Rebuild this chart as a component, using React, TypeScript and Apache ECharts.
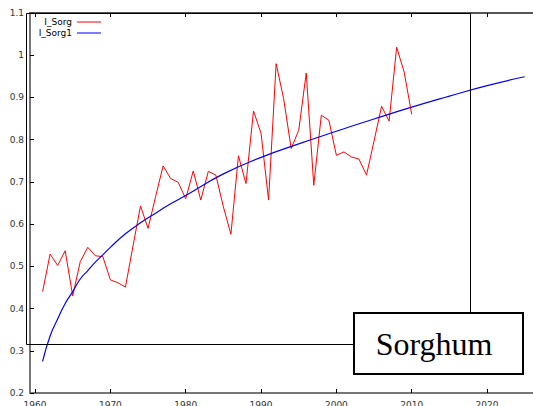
import React, { useEffect, useRef } from "react";
import * as echarts from "echarts";

const sorgYears = [
  1961, 1962, 1963, 1964, 1965, 1966, 1967, 1968, 1969, 1970,
  1971, 1972, 1973, 1974, 1975, 1976, 1977, 1978, 1979, 1980,
  1981, 1982, 1983, 1984, 1985, 1986, 1987, 1988, 1989, 1990,
  1991, 1992, 1993, 1994, 1995, 1996, 1997, 1998, 1999, 2000,
  2001, 2002, 2003, 2004, 2005, 2006, 2007, 2008, 2009, 2010,
];
const sorgValues = [
  0.44, 0.529, 0.502, 0.537, 0.43, 0.511, 0.545, 0.525, 0.523, 0.468,
  0.461, 0.451, 0.548, 0.643, 0.59, 0.665, 0.738, 0.708, 0.699, 0.66,
  0.726, 0.657, 0.725, 0.716, 0.641, 0.576, 0.762, 0.696, 0.868, 0.815,
  0.657, 0.98, 0.897, 0.779, 0.822, 0.958, 0.692, 0.858, 0.846, 0.763,
  0.771, 0.759, 0.754, 0.716, 0.797, 0.879, 0.844, 1.019, 0.96, 0.86,
];

const fitYears = [
  1961, 1962, 1963, 1964, 1965, 1966, 1967, 1968, 1969, 1970, 1972, 1974,
  1976, 1978, 1980, 1985, 1990, 1995, 2000, 2005, 2010, 2015, 2020, 2025,
];
const fitValues = [
  0.275, 0.335, 0.375, 0.412, 0.44, 0.47, 0.49, 0.51, 0.527, 0.545, 0.577, 0.603,
  0.626, 0.648, 0.668, 0.719, 0.758, 0.79, 0.82, 0.849, 0.877, 0.903, 0.928, 0.949,
];

const xTicks = [1960, 1970, 1980, 1990, 2000, 2010, 2020];

export default function App() {
  const ref = useRef<HTMLDivElement>(null);
  useEffect(() => {
    document.body.style.margin = "0";
    const chart = echarts.init(ref.current!, undefined, { renderer: "svg" });
    const labelFont = { fontFamily: "DejaVu Sans", fontSize: 9, color: "#333" };
    const xMin = 1959.33;
    const xMax = 2026.1;
    chart.setOption({
      animation: false,
      backgroundColor: "#fff",
      grid: { left: 30, right: 0, top: 13, bottom: 13, outerBoundsMode: "none", containLabel: false },
      xAxis: [
        {
          type: "value",
          min: xMin,
          max: xMax,
          position: "bottom",
          splitLine: { show: false },
          axisLine: { lineStyle: { color: "#777", width: 2 } },
          axisTick: { inside: true, length: 4, customValues: xTicks, lineStyle: { color: "#000" } },
          axisLabel: { ...labelFont, margin: 7, customValues: xTicks, formatter: (v: number) => String(v) },
        },
        {
          type: "value",
          min: xMin,
          max: xMax,
          position: "top",
          splitLine: { show: false },
          axisLine: { lineStyle: { color: "#555", width: 2 } },
          axisTick: { inside: true, length: 4, customValues: xTicks, lineStyle: { color: "#000" } },
          axisLabel: { show: false },
        },
      ],
      yAxis: {
        type: "value",
        min: 0.2,
        max: 1.1,
        interval: 0.1,
        splitLine: { show: false },
        axisLine: { show: true, lineStyle: { color: "#777", width: 2 } },
        axisTick: { show: true, inside: true, length: 4, lineStyle: { color: "#000" } },
        axisLabel: {
          ...labelFont,
          margin: 6,
          formatter: (v: number) => String(Math.round(v * 10) / 10),
        },
      },
      series: [
        {
          name: "I_Sorg",
          type: "line",
          data: sorgYears.map((y, i) => [y, sorgValues[i]]),
          showSymbol: false,
          lineStyle: { color: "#ff0000", width: 1 },
          z: 3,
        },
        {
          name: "I_Sorg1",
          type: "line",
          smooth: true,
          data: fitYears.map((y, i) => [y, fitValues[i]]),
          showSymbol: false,
          lineStyle: { color: "#0000ff", width: 1.2 },
          z: 4,
        },
      ],
      graphic: [
        {
          type: "rect",
          shape: { x: 26.5, y: 13.5, width: 444, height: 331 },
          style: { fill: "none", stroke: "#000", lineWidth: 1 },
          z: 10,
        },
        {
          type: "rect",
          shape: { x: 354, y: 313, width: 169, height: 61 },
          style: { fill: "#fff", stroke: "#000", lineWidth: 2 },
          z: 11,
        },
        {
          type: "text",
          x: 434,
          y: 344,
          style: {
            text: "Sorghum",
            font: "32px 'Liberation Serif', 'Times New Roman', serif",
            fill: "#000",
            textAlign: "center",
            textVerticalAlign: "middle",
          },
          z: 12,
        },
        {
          type: "text",
          x: 72,
          y: 22,
          style: { text: "I_Sorg", font: "9px 'DejaVu Sans'", fill: "#000", textAlign: "right", textVerticalAlign: "middle" },
          z: 12,
        },
        {
          type: "line",
          shape: { x1: 77, y1: 22, x2: 101, y2: 22 },
          style: { stroke: "#ff0000", lineWidth: 1 },
          z: 12,
        },
        {
          type: "text",
          x: 72,
          y: 33,
          style: { text: "I_Sorg1", font: "9px 'DejaVu Sans'", fill: "#000", textAlign: "right", textVerticalAlign: "middle" },
          z: 12,
        },
        {
          type: "line",
          shape: { x1: 77, y1: 33, x2: 101, y2: 33 },
          style: { stroke: "#0000ff", lineWidth: 1 },
          z: 12,
        },
      ],
    });
    return () => chart.dispose();
  }, []);
  return <div ref={ref} style={{ width: 533, height: 406 }} />;
}
